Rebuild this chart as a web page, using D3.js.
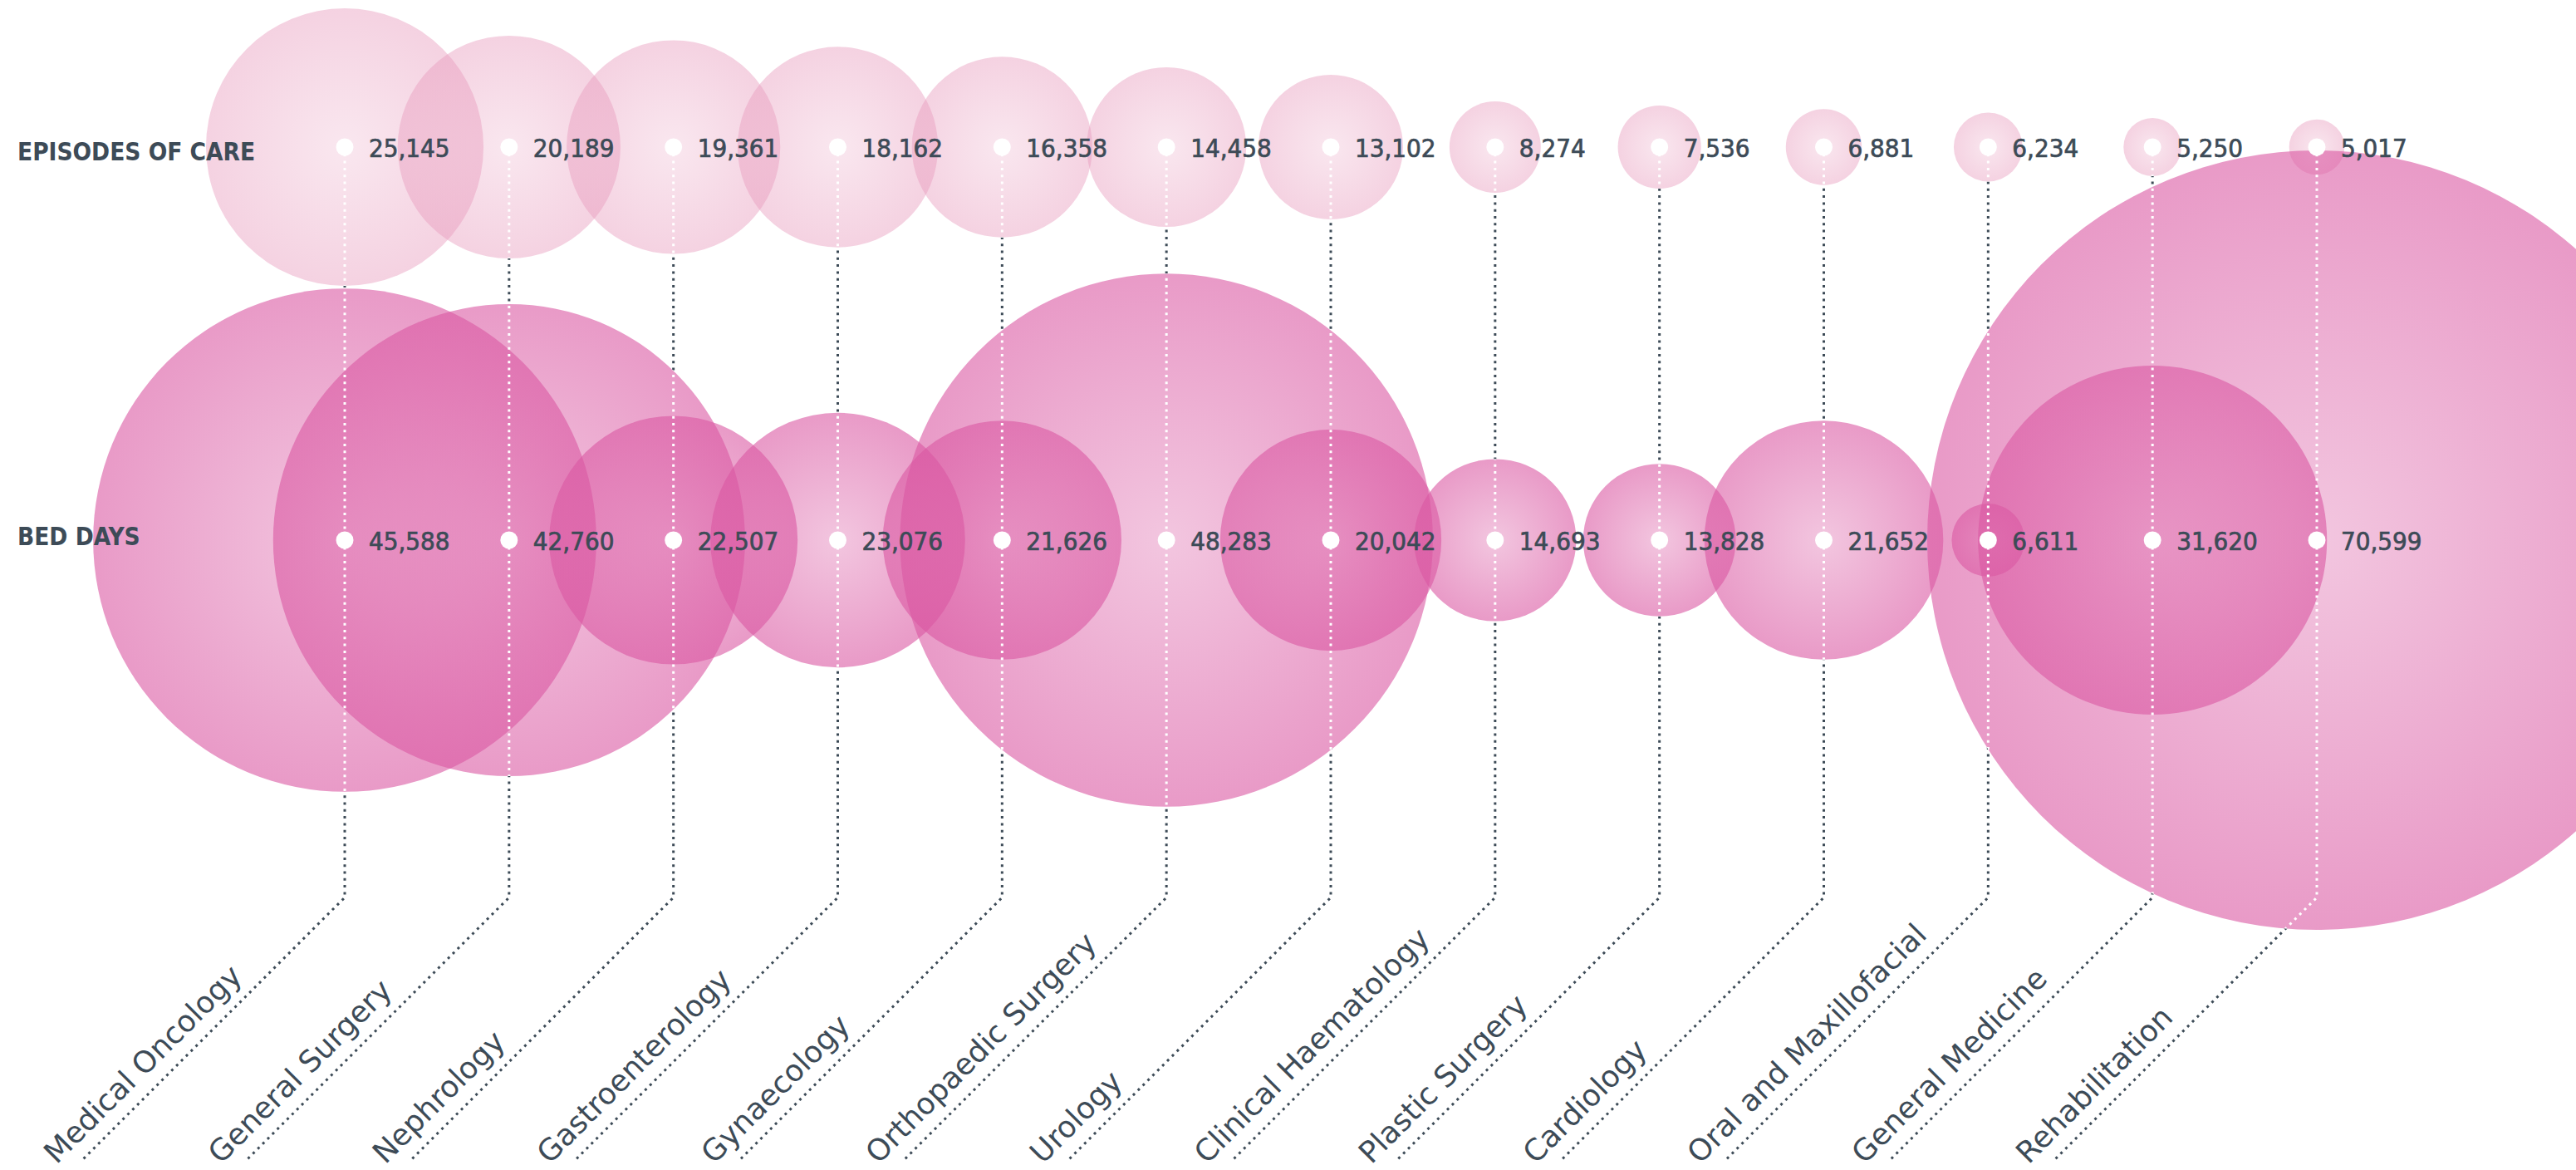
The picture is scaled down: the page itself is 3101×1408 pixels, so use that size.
<!DOCTYPE html>
<html>
<head>
<meta charset="utf-8">
<script src="https://cdn.jsdelivr.net/npm/d3@7.9.0/dist/d3.min.js"></script>
<style>
  body { margin: 0; background: #fff; }
  svg { display: block; }
  .num { font-family: "DejaVu Sans Condensed", "Liberation Sans Narrow", "DejaVu Sans", sans-serif; font-stretch: condensed; font-size: 31px; fill: #3d4b57; stroke: #3d4b57; stroke-width: 0.7px; }
  .rowlabel { font-family: "DejaVu Sans Condensed", "DejaVu Sans", sans-serif; font-stretch: condensed; font-weight: bold; font-size: 29.5px; fill: #3d4b57; }
  .cat { font-family: "DejaVu Sans", sans-serif; font-size: 36px; fill: #3d4b57; }
</style>
</head>
<body>
<svg id="chart"></svg>
<script>
// specialties, left to right
const categories = [
  "Medical Oncology", "General Surgery", "Nephrology", "Gastroenterology",
  "Gynaecology", "Orthopaedic Surgery", "Urology", "Clinical Haematology",
  "Plastic Surgery", "Cardiology", "Oral and Maxillofacial", "General Medicine",
  "Rehabilitation"
];
const episodes = [25145, 20189, 19361, 18162, 16358, 14458, 13102, 8274, 7536, 6881, 6234, 5250, 5017];
const bedDays = [45588, 42760, 22507, 23076, 21626, 48283, 20042, 14693, 13828, 21652, 6611, 31620, 70599];
const rows = ["EPISODES OF CARE", "BED DAYS"];

const width = 3101, height = 1408;
const ink = "#3d4b57";

const svg = d3.select("#chart").attr("width", width).attr("height", height);

const x = d3.scalePoint().domain(categories).range([415, 2789]);
const y = d3.scalePoint().domain(rows).range([177, 650]);
// radius is linear in the value (both rows share it)
const r = d3.scaleLinear().domain([0, d3.max(bedDays)]).range([0, 469]);
const fmt = d3.format(",");

const series = [
  { row: rows[0], values: episodes, grad: "gEp" },
  { row: rows[1], values: bedDays, grad: "gBed" }
];

const defs = svg.append("defs");

// radial fills: lighter in the middle
function radial(id, color, o0, o1) {
  const g = defs.append("radialGradient").attr("id", id);
  g.append("stop").attr("offset", "0%").attr("stop-color", color).attr("stop-opacity", o0);
  g.append("stop").attr("offset", "100%").attr("stop-color", color).attr("stop-opacity", o1);
}
radial("gEp", "#e89bbd", 0.24, 0.45);
radial("gBed", "#da57a2", 0.34, 0.6);

// all circles, used to split the leader lines into white (inside) and dark (outside)
const allCircles = series.flatMap(s => s.values.map((v, i) => ({ cx: x(categories[i]), cy: y(s.row), r: r(v) })));

const clip = defs.append("clipPath").attr("id", "inside");
clip.selectAll("circle").data(allCircles).join("circle")
  .attr("cx", d => d.cx).attr("cy", d => d.cy).attr("r", d => d.r);

const mask = defs.append("mask").attr("id", "outside")
  .attr("maskUnits", "userSpaceOnUse").attr("x", 0).attr("y", 0).attr("width", width).attr("height", height);
mask.append("rect").attr("width", width).attr("height", height).attr("fill", "#fff");
mask.selectAll("circle").data(allCircles).join("circle")
  .attr("cx", d => d.cx).attr("cy", d => d.cy).attr("r", d => d.r).attr("fill", "#000");

// circles
series.forEach(s => {
  svg.append("g").selectAll("circle")
    .data(s.values)
    .join("circle")
    .attr("cx", (d, i) => x(categories[i]))
    .attr("cy", y(s.row))
    .attr("r", d => r(d))
    .attr("fill", `url(#${s.grad})`);
});

// leader lines: down from the top dot, then 45 degrees to the label
const bend = 1080, bottom = 1395;
const leader = c => {
  const cx = x(c);
  return `M${cx},${y(rows[0])}V${bend}L${cx - (bottom - bend)},${bottom}`;
};

svg.append("g").attr("mask", "url(#outside)")
  .selectAll("path").data(categories).join("path")
  .attr("d", leader)
  .attr("fill", "none").attr("stroke", ink).attr("stroke-width", 3)
  .attr("stroke-dasharray", "3 5.3");

svg.append("g").attr("clip-path", "url(#inside)")
  .selectAll("path").data(categories).join("path")
  .attr("d", leader)
  .attr("fill", "none").attr("stroke", "#fff").attr("stroke-width", 3)
  .attr("stroke-dasharray", "3 5.3");

// dots and values
series.forEach(s => {
  const g = svg.append("g");
  g.selectAll("circle").data(s.values).join("circle")
    .attr("cx", (d, i) => x(categories[i]))
    .attr("cy", y(s.row))
    .attr("r", 10.5)
    .attr("fill", "#fff");
  g.selectAll("text").data(s.values).join("text")
    .attr("class", "num")
    .attr("x", (d, i) => x(categories[i]) + 29)
    .attr("y", y(s.row) + 12)
    .text(d => fmt(d));
});

// row titles
svg.append("text").attr("class", "rowlabel").attr("x", 21).attr("y", 193).text(rows[0]);
svg.append("text").attr("class", "rowlabel").attr("x", 21).attr("y", 656).text(rows[1]);

// specialty names along the diagonals
svg.append("g").selectAll("text").data(categories).join("text")
  .attr("class", "cat")
  .attr("transform", d => `translate(${x(d) - 347},1402) rotate(-45)`)
  .text(d => d);
</script>
</body>
</html>
